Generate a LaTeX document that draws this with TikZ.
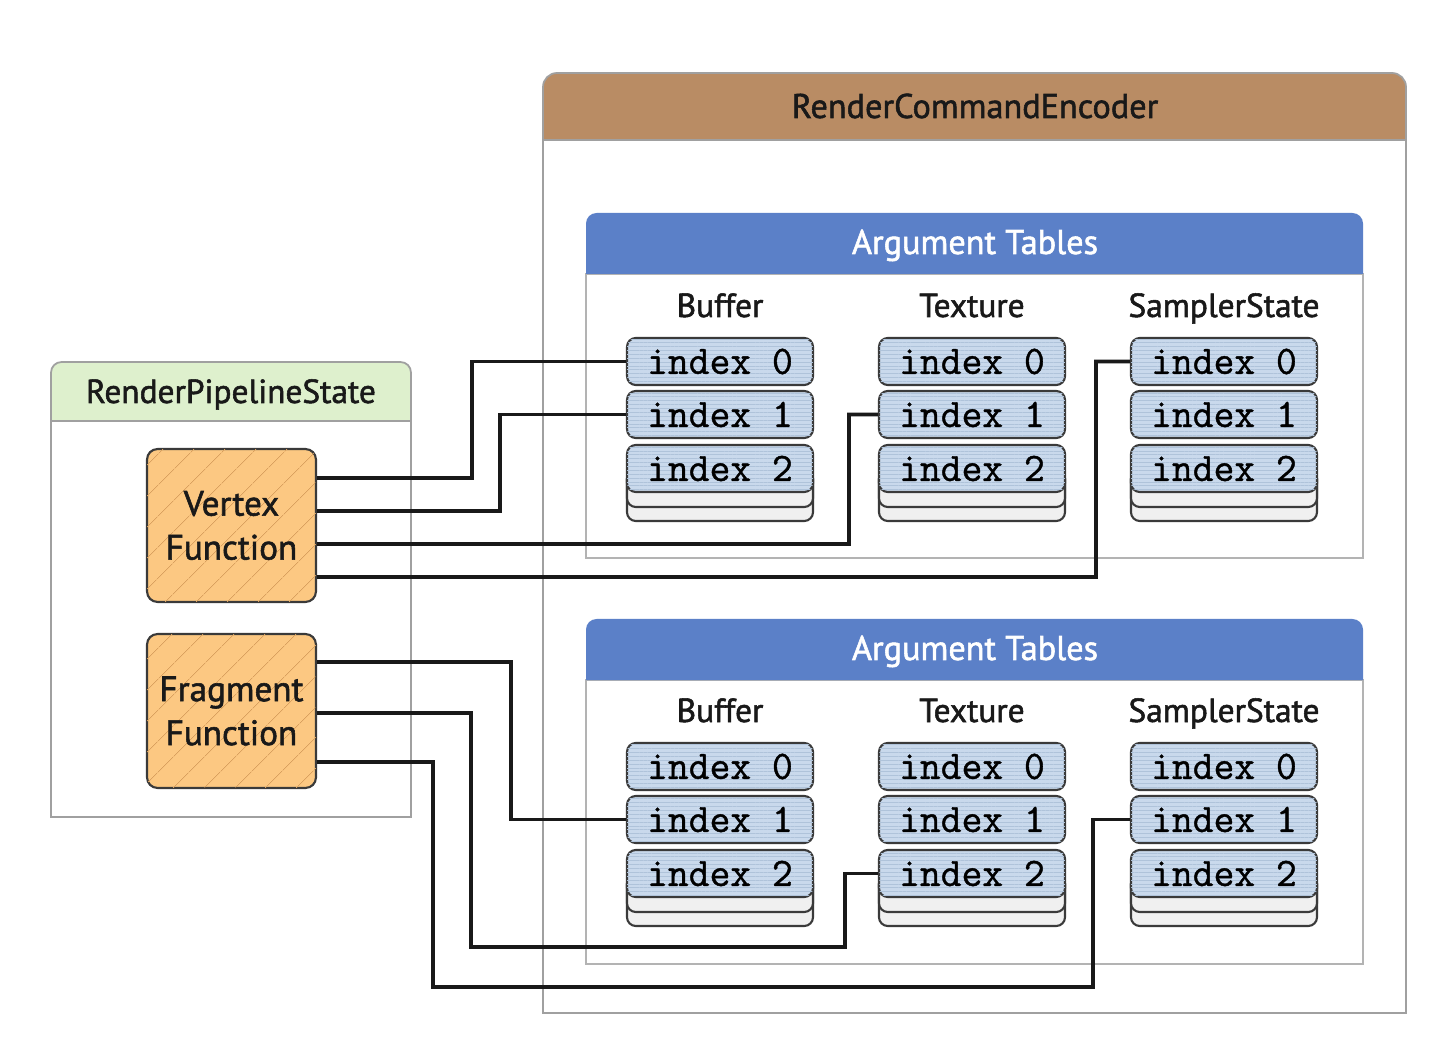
\documentclass[tikz,border=0pt]{standalone}
\usepackage{fontspec}
\setmainfont{PT Sans}[FakeBold=1.6]
\setmonofont{Latin Modern Mono}[FakeBold=1.0]
\usetikzlibrary{calc,patterns.meta}
\definecolor{rcebrown}{HTML}{B98C64}
\definecolor{tblblue}{HTML}{5B80C8}
\definecolor{rpsgreen}{HTML}{DEF0CD}
\definecolor{funcfill}{HTML}{FCC882}
\definecolor{funchatch}{HTML}{D9A05E}
\definecolor{idxfill}{HTML}{C9D9EC}
\definecolor{idxline}{HTML}{AFC3DA}
\definecolor{idxborder}{HTML}{3A3A3A}
\definecolor{boxgray}{HTML}{A0A0A0}
\definecolor{stripfill}{HTML}{F0F0F0}
\begin{document}
\begin{tikzpicture}[x=0.02cm,y=-0.02cm,
  gbox/.style={draw=boxgray,line width=1pt},
  title/.style={font=\fontsize{19.5}{24}\selectfont,anchor=base,inner sep=0pt,text=black!90},
  idx/.style={draw=idxborder,line width=1.2pt,rounded corners=5pt,fill=idxfill,
    minimum width=3.72cm,minimum height=0.94cm,inner sep=0pt,
    font=\ttfamily\fontsize{23}{23}\selectfont,
    postaction={pattern={Lines[angle=0,distance=2.2pt,line width=0.3pt]},pattern color=idxline}},
  strip/.style={draw=idxborder,line width=1.2pt,rounded corners=5pt,fill=stripfill},
  func/.style={draw=idxborder,line width=1.2pt,rounded corners=6pt,fill=funcfill,
    minimum width=3.38cm,inner sep=0pt,align=center,
    font=\fontsize{20}{25}\selectfont,text=black!90,
    postaction={pattern={Lines[angle=45,distance=13pt,line width=0.4pt]},pattern color=funchatch}},
  conn/.style={draw=black!90,line width=2.2pt}]
\useasboundingbox (0,0) rectangle (1454,1050);

% RenderCommandEncoder
\draw[gbox,fill=white] (543,140) -- (543,1013) -- (1406,1013) -- (1406,140);
\draw[gbox,fill=rcebrown] (543,140) {[rounded corners=8pt] -- (543,73) -- (1406,73)} -- (1406,140) -- cycle;
\node[title] (rce) at (975,118) {RenderCommandEncoder};

% Argument tables
\foreach \t/\dy in {1/0,2/406}{
  \draw[draw=boxgray!80,line width=0.8pt] (586,{274+\dy}) rectangle (1363,{558+\dy});
  \fill[tblblue] (586,{274+\dy}) {[rounded corners=6pt] -- (586,{213+\dy}) -- (1363,{213+\dy})} -- (1363,{274+\dy}) -- cycle;
  \node[title,text=white] (at-\t) at (975,{254+\dy}) {Argument Tables};
}

% RenderPipelineState
\draw[gbox,fill=white] (51,421) -- (51,817) -- (411,817) -- (411,421);
\draw[gbox,fill=rpsgreen] (51,421) {[rounded corners=6pt] -- (51,362) -- (411,362)} -- (411,421) -- cycle;
\node[title,font=\fontsize{19}{24}\selectfont] (rps) at (231,403) {RenderPipelineState};

% Functions
\node[func,minimum height=3.06cm] (vf) at (231.5,525.5) {Vertex\\Function};
\node[func,minimum height=3.08cm] (ff) at (231.5,711) {Fragment\\Function};

% Index columns
\foreach \t/\dy in {1/0,2/405}{
  \foreach \col/\cx/\lab in {buf/720/Buffer,tex/972/Texture,smp/1224/SamplerState}{
    \node[title,font=\fontsize{19}{23}\selectfont] (\col-\t-lab) at (\cx,{317+\dy}) {\lab};
    \draw[strip] ({\cx-93},{470+\dy}) rectangle ({\cx+93},{521+\dy});
    \draw[strip] ({\cx-93},{470+\dy}) rectangle ({\cx+93},{507+\dy});
    \node[idx] (\col-\t-0) at (\cx,{361.5+\dy}) {index 0};
    \node[idx] (\col-\t-1) at (\cx,{414.5+\dy}) {index 1};
    \node[idx] (\col-\t-2) at (\cx,{468.5+\dy}) {index 2};
  }
}

% Connectors
\draw[conn] ($(vf.east)+(0,-47.5)$) -- (472,478) |- (buf-1-0.west);
\draw[conn] ($(vf.east)+(0,-14.5)$) -- (500,511) |- (buf-1-1.west);
\draw[conn] ($(vf.east)+(0,18.5)$) -- (849,544) |- (tex-1-1.west);
\draw[conn] ($(vf.east)+(0,51.5)$) -- (1096,577) |- (smp-1-0.west);
\draw[conn] ($(ff.east)+(0,-49)$) -- (511,662) |- (buf-2-1.west);
\draw[conn] ($(ff.east)+(0,2)$) -- (471,713) -- (471,947) -- (845,947) |- (tex-2-2.west);
\draw[conn] ($(ff.east)+(0,51)$) -- (433,762) -- (433,987) -- (1093,987) |- (smp-2-1.west);
\end{tikzpicture}
\end{document}
